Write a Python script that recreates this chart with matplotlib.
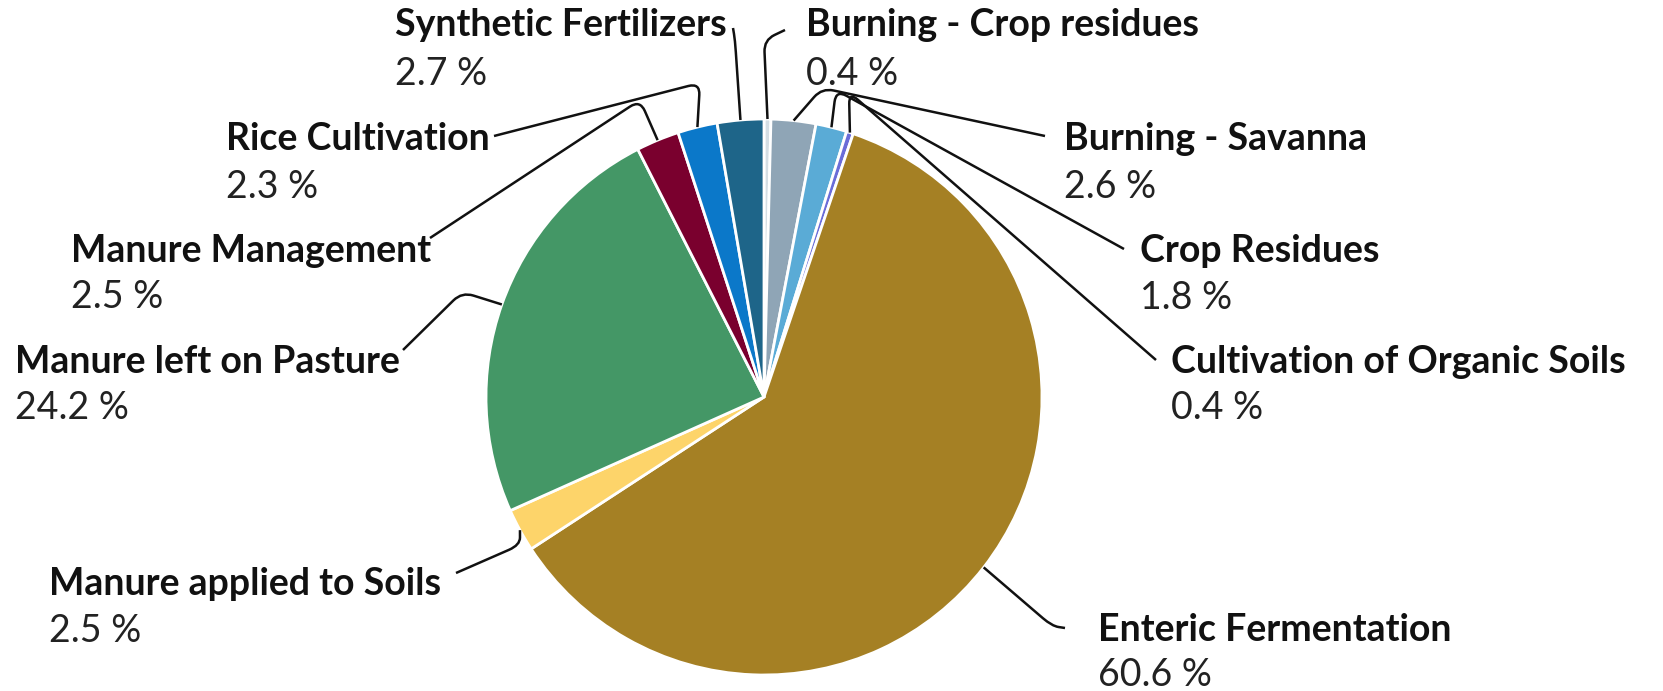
import numpy as np
import matplotlib
matplotlib.use("Agg")
from matplotlib import pyplot as plt
from matplotlib.path import Path
from matplotlib.patches import PathPatch

categories = [
    "Burning - Crop residues",
    "Burning - Savanna",
    "Crop Residues",
    "Cultivation of Organic Soils",
    "Enteric Fermentation",
    "Manure applied to Soils",
    "Manure left on Pasture",
    "Manure Management",
    "Rice Cultivation",
    "Synthetic Fertilizers",
]
shares = [0.4, 2.6, 1.8, 0.4, 60.6, 2.5, 24.2, 2.5, 2.3, 2.7]
colors = ["#d5dee4", "#8fa5b6", "#5aabd6", "#6a6cd8", "#a58024",
          "#fdd46a", "#449766", "#7a002e", "#0b78c9", "#1e6589"]

# layout in figure pixels (y down): label left x, name y, value y
label_pos = [
    (806, 25, 74),
    (1064, 139, 187),
    (1140, 251, 298),
    (1171, 362, 408),
    (1098, 630, 675),
    (49, 584, 631),
    (15, 362, 408),
    (71, 251, 297),
    (226, 139, 187),
    (395, 25, 74),
]
# leader line: bend point, end point (near label)
leader = [
    [(764, 40), (785, 30)],
    [(822, 88), (1045, 136)],
    [(836, 90), (1124, 249)],
    [(849, 92), (1156, 360)],
    [(1052, 626), (1065, 628)],
    [(520, 545), (456, 573)],
    [(462, 292), (403, 350)],
    [(640, 100), (430, 238)],
    [(700, 83), (494, 136)],
    [(735, 40), (733, 28)],
]

W, H = 1663, 691
cx, cy, r = 764, 397, 278

fig = plt.figure(figsize=(W / 100, H / 100), dpi=100)
ax = fig.add_axes([0, 0, 1, 1])

wedges, _ = ax.pie(shares, colors=colors, startangle=-90, counterclock=True,
                   center=(cx, cy), radius=r,
                   wedgeprops=dict(edgecolor="white", linewidth=2))
ax.set_xlim(0, W)
ax.set_ylim(H, 0)
ax.set_aspect("equal")
ax.axis("off")


def rounded(p0, p1, p2, k=12):
    p0, p1, p2 = map(np.asarray, (p0, p1, p2))
    d0 = (p0 - p1) / np.linalg.norm(p0 - p1)
    d2 = (p2 - p1) / np.linalg.norm(p2 - p1)
    a = p1 + d0 * min(k, np.linalg.norm(p0 - p1) / 2)
    b = p1 + d2 * min(k, np.linalg.norm(p2 - p1) / 2)
    verts = [p0, a, p1, b, p2]
    codes = [Path.MOVETO, Path.LINETO, Path.CURVE3, Path.CURVE3, Path.LINETO]
    return Path(verts, codes)


for w, name, val, (lx, ny, vy), (bend, end) in zip(wedges, categories, shares, label_pos, leader):
    th = np.deg2rad((w.theta1 + w.theta2) / 2)
    start = (cx + r * np.cos(th), cy + r * np.sin(th))
    ax.add_patch(PathPatch(rounded(start, bend, end), fill=False, edgecolor="#111111",
                           linewidth=1.8, zorder=3))
    ax.text(lx, ny, name, fontsize=27, fontweight="bold", family="Lato",
            color="#111111", va="center", ha="left")
    ax.text(lx, vy, f"{val:.1f} %", fontsize=27, family="Lato",
            color="#222222", va="center", ha="left")

fig.savefig("out.png", dpi=100)
